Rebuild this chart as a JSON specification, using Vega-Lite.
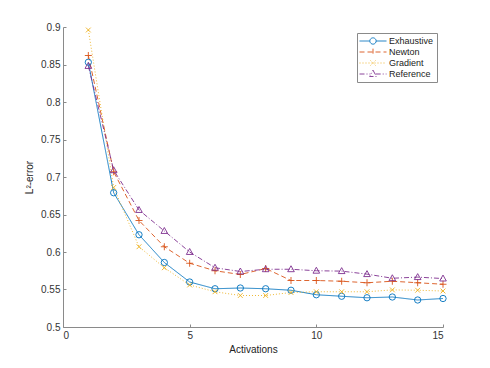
{
  "$schema": "https://vega.github.io/schema/vega-lite/v6.json",
  "width": 380,
  "height": 300,
  "autosize": {"type": "none"},
  "padding": {"left": 63, "top": 27, "right": 47, "bottom": 41},
  "background": "white",
  "config": {
    "view": {"stroke": null},
    "font": "Liberation Sans",
    "axis": {
      "domainColor": "#8a8a8a",
      "domainWidth": 1,
      "tickColor": "#8a8a8a",
      "tickSize": -3,
      "labelColor": "#333333",
      "labelFontSize": 10,
      "labelFont": "Liberation Sans",
      "titleFont": "Liberation Sans",
      "titleFontSize": 10,
      "titleFontWeight": "normal",
      "titleColor": "#222222",
      "grid": false
    },
    "legend": {
      "orient": "top-right",
      "offset": 6,
      "padding": 3,
      "strokeColor": "#8a8a8a",
      "fillColor": "white",
      "labelFontSize": 9,
      "labelColor": "#222222",
      "labelFont": "Liberation Sans",
      "symbolSize": 81,
      "symbolStrokeWidth": 0.9,
      "symbolOffset": 8,
      "labelOffset": 11,
      "rowPadding": 0
    }
  },
  "data": {
    "values": [
      {"x": 1, "y": 0.853, "series": "Exhaustive"},
      {"x": 2, "y": 0.679, "series": "Exhaustive"},
      {"x": 3, "y": 0.623, "series": "Exhaustive"},
      {"x": 4, "y": 0.586, "series": "Exhaustive"},
      {"x": 5, "y": 0.560, "series": "Exhaustive"},
      {"x": 6, "y": 0.551, "series": "Exhaustive"},
      {"x": 7, "y": 0.552, "series": "Exhaustive"},
      {"x": 8, "y": 0.551, "series": "Exhaustive"},
      {"x": 9, "y": 0.549, "series": "Exhaustive"},
      {"x": 10, "y": 0.543, "series": "Exhaustive"},
      {"x": 11, "y": 0.541, "series": "Exhaustive"},
      {"x": 12, "y": 0.539, "series": "Exhaustive"},
      {"x": 13, "y": 0.540, "series": "Exhaustive"},
      {"x": 14, "y": 0.536, "series": "Exhaustive"},
      {"x": 15, "y": 0.538, "series": "Exhaustive"},
      {"x": 1, "y": 0.862, "series": "Newton"},
      {"x": 2, "y": 0.707, "series": "Newton"},
      {"x": 3, "y": 0.642, "series": "Newton"},
      {"x": 4, "y": 0.607, "series": "Newton"},
      {"x": 5, "y": 0.585, "series": "Newton"},
      {"x": 6, "y": 0.575, "series": "Newton"},
      {"x": 7, "y": 0.570, "series": "Newton"},
      {"x": 8, "y": 0.578, "series": "Newton"},
      {"x": 9, "y": 0.562, "series": "Newton"},
      {"x": 10, "y": 0.562, "series": "Newton"},
      {"x": 11, "y": 0.561, "series": "Newton"},
      {"x": 12, "y": 0.559, "series": "Newton"},
      {"x": 13, "y": 0.561, "series": "Newton"},
      {"x": 14, "y": 0.559, "series": "Newton"},
      {"x": 15, "y": 0.557, "series": "Newton"},
      {"x": 1, "y": 0.896, "series": "Gradient"},
      {"x": 2, "y": 0.686, "series": "Gradient"},
      {"x": 3, "y": 0.607, "series": "Gradient"},
      {"x": 4, "y": 0.579, "series": "Gradient"},
      {"x": 5, "y": 0.556, "series": "Gradient"},
      {"x": 6, "y": 0.547, "series": "Gradient"},
      {"x": 7, "y": 0.542, "series": "Gradient"},
      {"x": 8, "y": 0.542, "series": "Gradient"},
      {"x": 9, "y": 0.546, "series": "Gradient"},
      {"x": 10, "y": 0.547, "series": "Gradient"},
      {"x": 11, "y": 0.547, "series": "Gradient"},
      {"x": 12, "y": 0.547, "series": "Gradient"},
      {"x": 13, "y": 0.5495, "series": "Gradient"},
      {"x": 14, "y": 0.549, "series": "Gradient"},
      {"x": 15, "y": 0.548, "series": "Gradient"},
      {"x": 1, "y": 0.848, "series": "Reference"},
      {"x": 2, "y": 0.709, "series": "Reference"},
      {"x": 3, "y": 0.656, "series": "Reference"},
      {"x": 4, "y": 0.628, "series": "Reference"},
      {"x": 5, "y": 0.600, "series": "Reference"},
      {"x": 6, "y": 0.579, "series": "Reference"},
      {"x": 7, "y": 0.574, "series": "Reference"},
      {"x": 8, "y": 0.577, "series": "Reference"},
      {"x": 9, "y": 0.577, "series": "Reference"},
      {"x": 10, "y": 0.575, "series": "Reference"},
      {"x": 11, "y": 0.5745, "series": "Reference"},
      {"x": 12, "y": 0.5705, "series": "Reference"},
      {"x": 13, "y": 0.565, "series": "Reference"},
      {"x": 14, "y": 0.5665, "series": "Reference"},
      {"x": 15, "y": 0.5646, "series": "Reference"}
    ]
  },
  "encoding": {
    "x": {
      "field": "x", "type": "quantitative",
      "scale": {"domain": [0, 15], "nice": false, "zero": false},
      "axis": {"values": [0, 5, 10, 15], "title": "Activations", "labelPadding": 6, "titlePadding": 4}
    },
    "y": {
      "field": "y", "type": "quantitative",
      "scale": {"domain": [0.5, 0.9], "nice": false, "zero": false},
      "axis": {"values": [0.5, 0.55, 0.6, 0.65, 0.7, 0.75, 0.8, 0.85, 0.9], "format": "~g", "title": "L²-error", "labelPadding": 6, "titlePadding": 6}
    },
    "color": {
      "field": "series", "type": "nominal", "title": null,
      "scale": {"domain": ["Exhaustive", "Newton", "Gradient", "Reference"], "range": ["#0072BD", "#D95319", "#EDB120", "#7E2F8E"]}
    }
  },
  "layer": [
    {
      "mark": {"type": "line", "strokeWidth": 0.9},
      "encoding": {
        "strokeDash": {
          "field": "series", "type": "nominal", "title": null,
          "scale": {"domain": ["Exhaustive", "Newton", "Gradient", "Reference"], "range": [[1, 0], [5, 3], [1, 2], [5, 2, 1, 2]]}
        }
      }
    },
    {
      "transform": [{"filter": "datum.series === 'Exhaustive'"}],
      "mark": {"type": "point", "filled": false, "strokeWidth": 0.9, "opacity": 1, "shape": "circle", "size": 40}
    },
    {
      "transform": [{"filter": "datum.series === 'Newton'"}],
      "mark": {"type": "point", "filled": false, "strokeWidth": 0.9, "opacity": 1, "shape": "M-1,0H1M0,-1V1", "size": 49}
    },
    {
      "transform": [{"filter": "datum.series === 'Gradient'"}],
      "mark": {"type": "point", "filled": false, "strokeWidth": 0.9, "opacity": 1, "shape": "M-0.8,-0.8L0.8,0.8M-0.8,0.8L0.8,-0.8", "size": 36}
    },
    {
      "transform": [{"filter": "datum.series === 'Reference'"}],
      "mark": {"type": "point", "filled": false, "strokeWidth": 0.9, "opacity": 1, "shape": "M0,-1L0.95,0.7L-0.95,0.7Z", "size": 49}
    },
    {
      "transform": [{"filter": "datum.x < 0"}],
      "mark": {"type": "point", "filled": false, "strokeWidth": 0.9, "opacity": 1},
      "encoding": {
        "strokeDash": {"field": "series", "type": "nominal", "title": null},
        "shape": {
          "field": "series", "type": "nominal", "title": null,
          "scale": {"domain": ["Exhaustive", "Newton", "Gradient", "Reference"], "range": [
            "M-3,0H-0.7M0.7,0H3M0.7,0A0.7,0.7,0,1,1,-0.7,0A0.7,0.7,0,1,1,0.7,0",
            "M-3,0H3M0,-0.75V0.75",
            "M-3,0H3M-0.55,-0.55L0.55,0.55M-0.55,0.55L0.55,-0.55",
            "M-3,0H-0.6M0.6,0H3M0,-0.85L0.75,0.55L-0.75,0.55Z"
          ]}
        }
      }
    }
  ]
}
